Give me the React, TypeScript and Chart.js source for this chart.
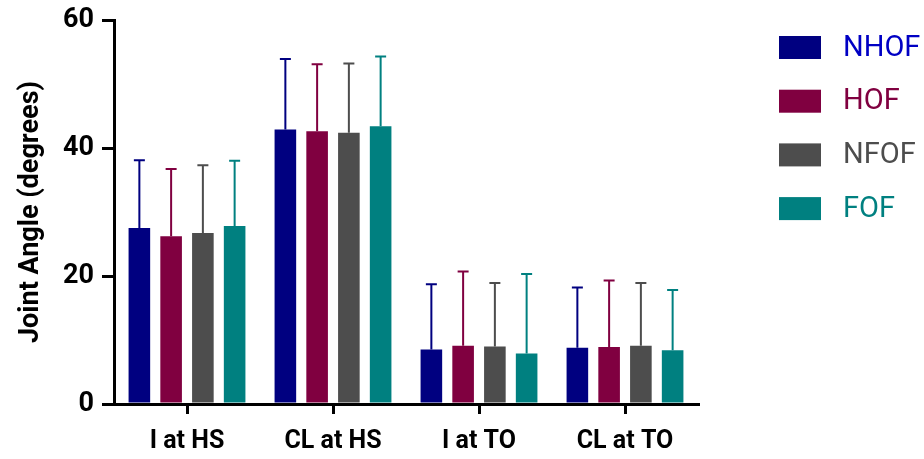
import React, { useEffect, useRef } from 'react';
import { Chart, registerables } from 'chart.js';

Chart.register(...registerables);

const categories = ['I at HS', 'CL at HS', 'I at TO', 'CL at TO'];
const seriesNames = ['NHOF', 'HOF', 'NFOF', 'FOF'];
const nhofMean = [27.5, 42.9, 8.5, 8.8];
const nhofSD = [10.6, 11.0, 10.2, 9.4];
const hofMean = [26.2, 42.6, 9.1, 8.9];
const hofSD = [10.5, 10.5, 11.6, 10.4];
const nfofMean = [26.7, 42.4, 9.0, 9.1];
const nfofSD = [10.6, 10.8, 9.9, 9.8];
const fofMean = [27.8, 43.4, 7.9, 8.4];
const fofSD = [10.2, 10.9, 12.4, 9.4];
const yTicks = [0, 20, 40, 60];

const barColors = ['#000080', '#800040', '#4d4d4d', '#008080'];
const legendTextColors = ['#0000c4', '#800040', '#4d4d4d', '#008080'];

const FONT = 'Roboto, "Liberation Sans", sans-serif';
const LEGEND_FONT = 'Roboto, sans-serif';

export default function App() {
  const ref = useRef<HTMLCanvasElement>(null);

  useEffect(() => {
    document.body.style.margin = '0';
    const canvas = ref.current;
    if (!canvas) return;
    const means = [nhofMean, hofMean, nfofMean, fofMean];
    const sds = [nhofSD, hofSD, nfofSD, fofSD];

    const errorBars = {
      id: 'errorBars',
      afterDatasetsDraw(chart: any) {
        const ctx = chart.ctx;
        const y = chart.scales.y;
        ctx.save();
        chart.data.datasets.forEach((ds: any, i: number) => {
          const meta = chart.getDatasetMeta(i);
          meta.data.forEach((el: any, j: number) => {
            const top = y.getPixelForValue(means[i][j] + sds[i][j]);
            ctx.strokeStyle = barColors[i];
            ctx.lineWidth = 2;
            ctx.beginPath();
            ctx.moveTo(el.x, el.y);
            ctx.lineTo(el.x, top);
            ctx.moveTo(el.x - 5.5, top);
            ctx.lineTo(el.x + 5.5, top);
            ctx.stroke();
          });
        });
        ctx.restore();
      },
    };

    const legendPlugin = {
      id: 'customLegend',
      afterDraw(chart: any) {
        const ctx = chart.ctx;
        ctx.save();
        const boxX = chart.chartArea.right + 81;
        const startY = 36;
        const step = 53.7;
        seriesNames.forEach((name, i) => {
          const yTop = startY + i * step;
          ctx.fillStyle = barColors[i];
          ctx.fillRect(boxX, yTop, 42, 23);
          ctx.fillStyle = legendTextColors[i];
          ctx.font = '29px ' + LEGEND_FONT;
          ctx.textBaseline = 'middle';
          ctx.textAlign = 'left';
          ctx.fillText(name, boxX + 64, yTop + 12.5);
        });
        ctx.restore();
      },
    };

    const chart = new Chart(canvas, {
      type: 'bar',
      data: {
        labels: categories,
        datasets: seriesNames.map((name, i) => ({
          label: name,
          data: means[i],
          backgroundColor: barColors[i],
          borderWidth: 0,
          categoryPercentage: 0.87,
          barPercentage: 0.68,
        })),
      },
      options: {
        responsive: false,
        animation: false,
        layout: { padding: { left: 0, top: 20, right: 226, bottom: 0 } },
        plugins: {
          legend: { display: false },
          tooltip: { enabled: false },
        },
        scales: {
          x: {
            grid: {
              display: true,
              drawOnChartArea: false,
              drawTicks: true,
              tickLength: 10,
              offset: false,
              lineWidth: 3,
              color: '#000',
            },
            border: { display: true, color: '#000', width: 3 },
            ticks: {
              color: '#000',
              padding: 13,
              font: { family: FONT, size: 25, weight: 'bold' },
            },
            afterFit(scale: any) {
              scale.height = 55;
              scale.paddingLeft = 0;
              scale.paddingRight = 0;
            },
          },
          y: {
            min: 0,
            max: 60,
            afterBuildTicks(scale: any) {
              scale.ticks = yTicks.map((v) => ({ value: v }));
            },
            grid: {
              display: true,
              drawOnChartArea: false,
              drawTicks: true,
              tickLength: 12,
              lineWidth: 3,
              color: '#000',
            },
            border: { display: true, color: '#000', width: 3 },
            ticks: {
              color: '#000',
              padding: 8,
              font: { family: FONT, size: 27, weight: 'bold' },
            },
            title: {
              display: true,
              text: 'Joint Angle (degrees)',
              color: '#000',
              padding: { top: 15, bottom: 0 },
              font: { family: FONT, size: 27, weight: 'bold' },
            },
            afterFit(scale: any) {
              scale.width = 114;
              scale.paddingTop = 0;
              scale.paddingBottom = 0;
            },
          },
        },
      },
      plugins: [errorBars, legendPlugin],
    });
    return () => chart.destroy();
  }, []);

  return (
    <div style={{ width: 924, height: 459, position: 'relative' }}>
      <canvas ref={ref} width={924} height={459} style={{ width: 924, height: 459, display: 'block' }} />
    </div>
  );
}
